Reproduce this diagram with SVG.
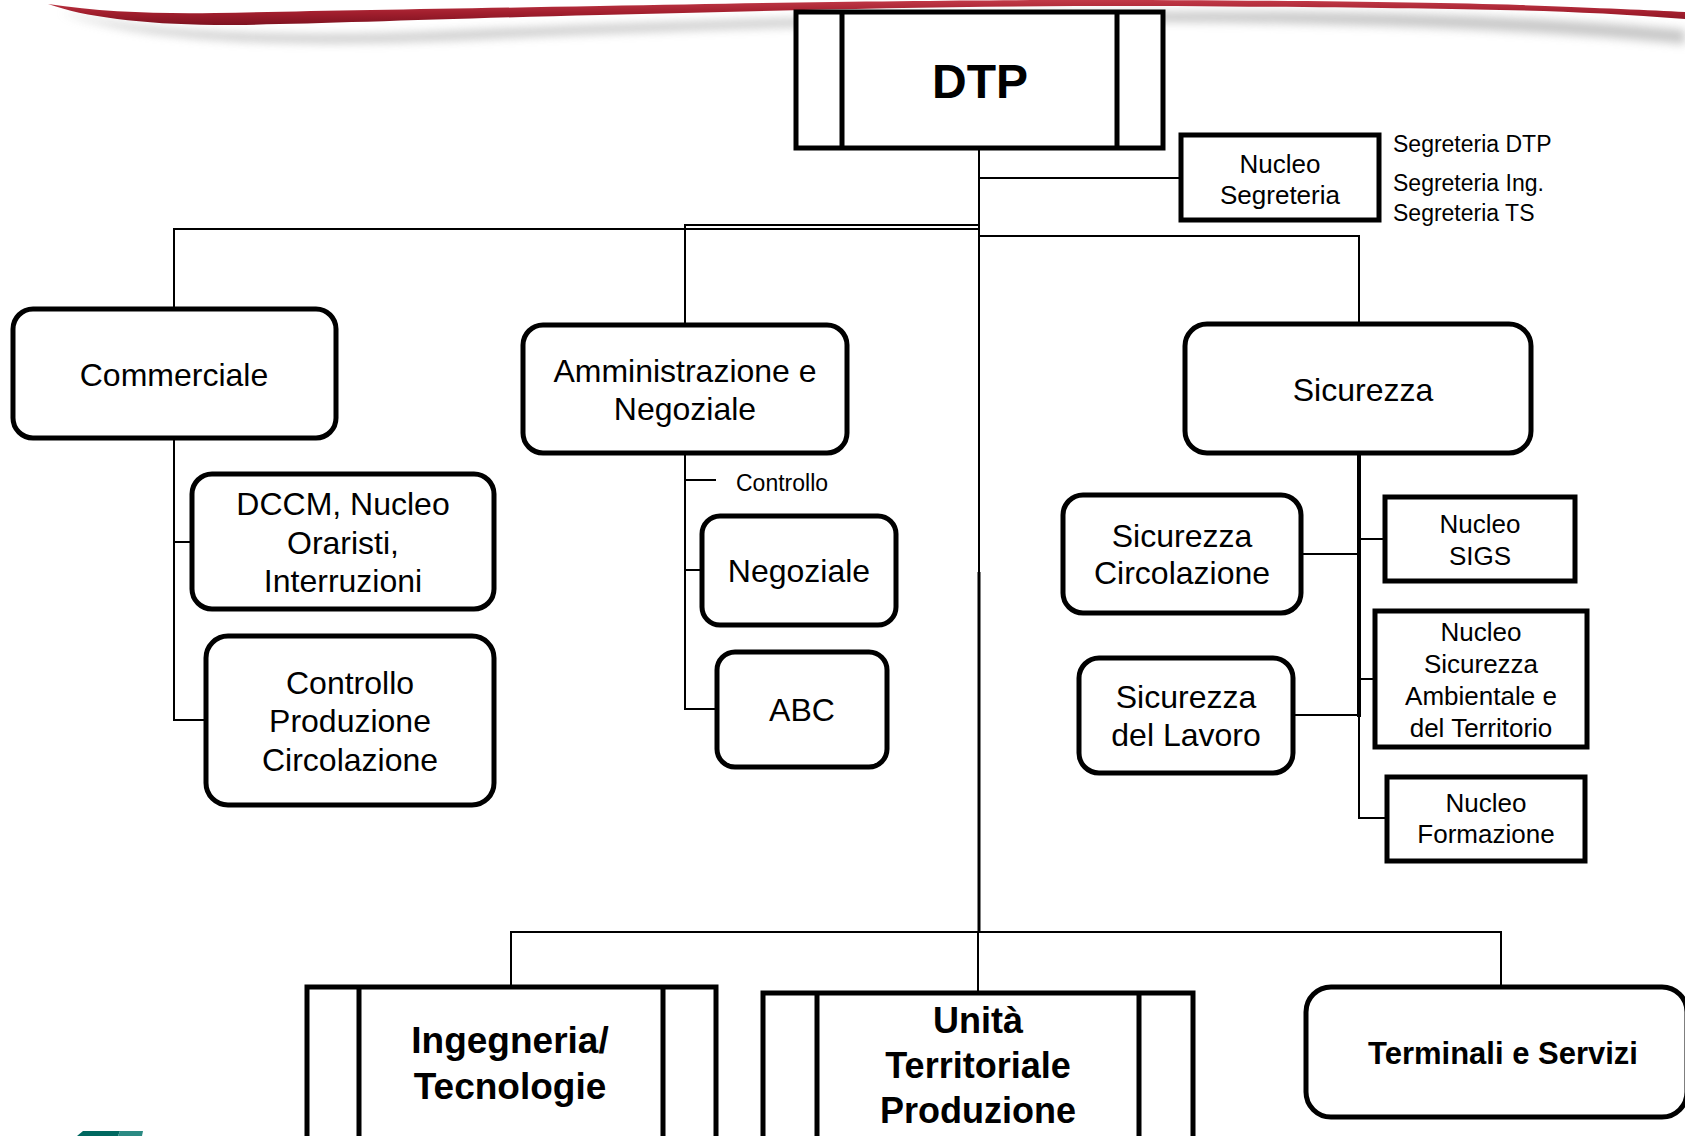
<svg xmlns="http://www.w3.org/2000/svg" width="1685" height="1136" viewBox="0 0 1685 1136">
  <style>
    .box { fill: #ffffff; stroke: #000000; stroke-width: 5; stroke-linejoin: round; }
    .sq { fill: #ffffff; stroke: #000000; stroke-width: 5; stroke-linejoin: miter; }
    .bar { stroke: #000000; stroke-width: 5; fill: none; }
    .ln { stroke: #000000; stroke-width: 2; fill: none; }
    .t { font-family: "Liberation Sans", Arial, Helvetica, sans-serif; fill: #000000; text-anchor: middle; }
    .t32 { font-size: 32px; }
    .t26 { font-size: 26px; }
    .t23 { font-size: 23px; }
    .b { font-weight: bold; }
  </style>
  <defs>
    <filter id="soft" x="-5%" y="-100%" width="110%" height="300%">
      <feGaussianBlur stdDeviation="5"/>
    </filter>
    <linearGradient id="red" x1="0" y1="0" x2="0" y2="1">
      <stop offset="0" stop-color="#c23a48"/>
      <stop offset="0.5" stop-color="#a31f2e"/>
      <stop offset="1" stop-color="#7e1220"/>
    </linearGradient>
  </defs>

  <rect width="1685" height="1136" fill="#ffffff"/>

  <!-- header swoosh with its shadow -->
  <g id="header">
    <path d="M60,12 C150,34 300,40 480,30 C760,18 1050,10 1300,12 C1480,14 1600,22 1685,30 L1685,44 C1560,32 1400,24 1200,22 C950,20 700,28 450,40 C300,46 150,44 60,12 Z" fill="#9a9a9a" opacity="0.55" filter="url(#soft)"/>
    <path d="M48,4 C100,12 160,14 215,13 C320,11 430,9 600,6 C800,2 950,0 1075,0 C1250,0 1420,2 1520,5 C1600,8 1650,10 1685,12 L1685,19 C1620,14 1560,11 1500,10 C1400,8 1250,6 1075,6 C900,7 760,11 600,15 C430,19 300,25 215,25 C140,24 85,17 48,4 Z" fill="url(#red)"/>
  </g>

  <!-- connectors -->
  <g id="connectors">
    <path class="ln" d="M979,148 V572"/>
    <path class="ln" style="stroke-width:3" d="M979,572 V932"/>
    <path class="ln" d="M979,178 H1181"/>
    <path class="ln" d="M979,229 H174 V309"/>
    <path class="ln" d="M979,225 H685 V325"/>
    <path class="ln" d="M979,236 H1359 V323"/>
    <path class="ln" d="M174,438 V720 H206"/>
    <path class="ln" d="M174,542 H192"/>
    <path class="ln" d="M685,453 V709 H717"/>
    <path class="ln" d="M685,480 H716"/>
    <path class="ln" d="M685,570 H702"/>
    <path class="ln" style="stroke-width:4" d="M1359,453 V717"/>
    <path class="ln" d="M1359,716 V818 H1387"/>
    <path class="ln" d="M1301,554 H1359"/>
    <path class="ln" d="M1293,715 H1359"/>
    <path class="ln" d="M1359,539 H1385"/>
    <path class="ln" d="M1359,679 H1375"/>
    <path class="ln" d="M511,987 V932 H1501 V987"/>
    <path class="ln" d="M978,932 V993"/>
  </g>

  <!-- top management -->
  <g id="dtp">
    <rect class="sq" x="796" y="12" width="367" height="136"/>
    <line class="bar" x1="842" y1="12" x2="842" y2="148"/>
    <line class="bar" x1="1117" y1="12" x2="1117" y2="148"/>
    <text class="t b" x="980" y="98" font-size="48">DTP</text>
  </g>

  <g id="nucleo-segreteria">
    <rect class="sq" x="1181" y="135" width="198" height="85"/>
    <text class="t t26" x="1280" y="173">Nucleo</text>
    <text class="t t26" x="1280" y="204">Segreteria</text>
  </g>
  <g id="segreterie" class="t t23" style="text-anchor:start">
    <text x="1393" y="152">Segreteria DTP</text>
    <text x="1393" y="191">Segreteria Ing.</text>
    <text x="1393" y="221">Segreteria TS</text>
  </g>

  <!-- Commerciale branch -->
  <g id="commerciale">
    <rect class="box" x="13" y="309" width="323" height="129" rx="20"/>
    <text class="t t32" x="174" y="386">Commerciale</text>
  </g>
  <g id="dccm">
    <rect class="box" x="192" y="474" width="302" height="135" rx="20"/>
    <text class="t t32" x="343" y="515">DCCM, Nucleo</text>
    <text class="t t32" x="343" y="554">Oraristi,</text>
    <text class="t t32" x="343" y="592">Interruzioni</text>
  </g>
  <g id="controllo-produzione">
    <rect class="box" x="206" y="636" width="288" height="169" rx="22"/>
    <text class="t t32" x="350" y="694">Controllo</text>
    <text class="t t32" x="350" y="732">Produzione</text>
    <text class="t t32" x="350" y="771">Circolazione</text>
  </g>

  <!-- Amministrazione branch -->
  <g id="amministrazione">
    <rect class="box" x="523" y="325" width="324" height="128" rx="20"/>
    <text class="t t32" x="685" y="382">Amministrazione e</text>
    <text class="t t32" x="685" y="420">Negoziale</text>
  </g>
  <g id="controllo-label">
    <text class="t t23" x="736" y="491" style="text-anchor:start">Controllo</text>
  </g>
  <g id="negoziale">
    <rect class="box" x="702" y="516" width="194" height="109" rx="18"/>
    <text class="t t32" x="799" y="582">Negoziale</text>
  </g>
  <g id="abc">
    <rect class="box" x="717" y="652" width="170" height="115" rx="18"/>
    <text class="t t32" x="802" y="721">ABC</text>
  </g>

  <!-- Sicurezza branch -->
  <g id="sicurezza">
    <rect class="box" x="1185" y="324" width="346" height="129" rx="22"/>
    <text class="t t32" x="1363" y="401">Sicurezza</text>
  </g>
  <g id="sicurezza-circolazione">
    <rect class="box" x="1063" y="495" width="238" height="118" rx="20"/>
    <text class="t t32" x="1182" y="547">Sicurezza</text>
    <text class="t t32" x="1182" y="584">Circolazione</text>
  </g>
  <g id="sicurezza-lavoro">
    <rect class="box" x="1079" y="658" width="214" height="115" rx="20"/>
    <text class="t t32" x="1186" y="708">Sicurezza</text>
    <text class="t t32" x="1186" y="746">del Lavoro</text>
  </g>
  <g id="nucleo-sigs">
    <rect class="sq" x="1385" y="497" width="190" height="84"/>
    <text class="t t26" x="1480" y="533">Nucleo</text>
    <text class="t t26" x="1480" y="565">SIGS</text>
  </g>
  <g id="nucleo-ambientale">
    <rect class="sq" x="1375" y="611" width="212" height="136"/>
    <text class="t t26" x="1481" y="641">Nucleo</text>
    <text class="t t26" x="1481" y="673">Sicurezza</text>
    <text class="t t26" x="1481" y="705">Ambientale e</text>
    <text class="t t26" x="1481" y="737">del Territorio</text>
  </g>
  <g id="nucleo-formazione">
    <rect class="sq" x="1387" y="777" width="198" height="84"/>
    <text class="t t26" x="1486" y="812">Nucleo</text>
    <text class="t t26" x="1486" y="843">Formazione</text>
  </g>

  <!-- lower units -->
  <g id="ingegneria">
    <rect class="sq" x="307" y="987" width="409" height="190"/>
    <line class="bar" x1="359" y1="987" x2="359" y2="1177"/>
    <line class="bar" x1="663" y1="987" x2="663" y2="1177"/>
    <text class="t b" x="510" y="1053" font-size="37">Ingegneria/</text>
    <text class="t b" x="510" y="1099" font-size="37">Tecnologie</text>
  </g>
  <g id="unita-territoriale">
    <rect class="sq" x="763" y="993" width="430" height="190"/>
    <line class="bar" x1="817" y1="993" x2="817" y2="1183"/>
    <line class="bar" x1="1139" y1="993" x2="1139" y2="1183"/>
    <text class="t b" x="978" y="1033" font-size="36">Unità</text>
    <text class="t b" x="978" y="1078" font-size="36">Territoriale</text>
    <text class="t b" x="978" y="1123" font-size="36">Produzione</text>
  </g>
  <g id="terminali">
    <rect class="box" x="1306" y="987" width="381" height="130" rx="25"/>
    <text class="t b" x="1503" y="1064" font-size="31">Terminali e Servizi</text>
  </g>

  <!-- footer logo fragment -->
  <g id="footer">
    <polygon points="77,1136 83,1131 120,1131 118,1136" fill="#006860"/>
    <polygon points="118,1136 120,1131 143,1131 142,1136" fill="#2b8a83"/>
  </g>
</svg>
